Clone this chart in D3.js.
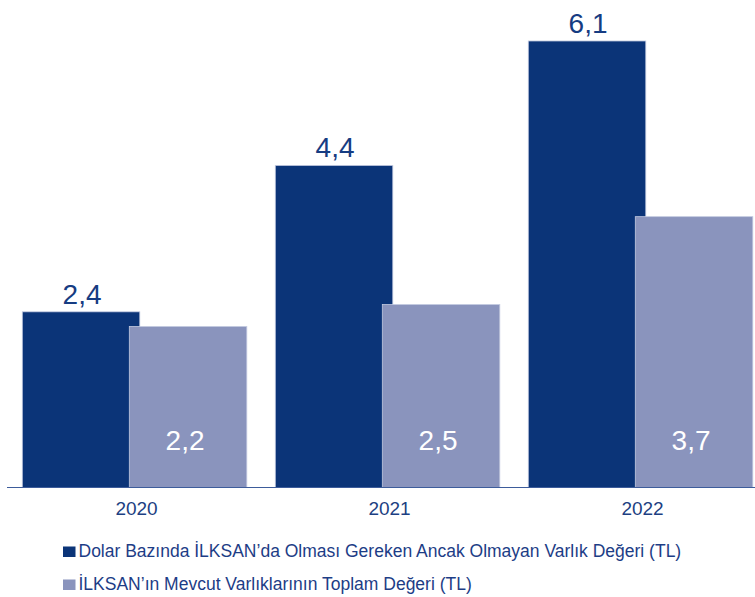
<!DOCTYPE html>
<html>
<head>
<meta charset="utf-8">
<script src="https://cdn.jsdelivr.net/npm/d3@7"></script>
<style>
  body { margin: 0; background: #fff; }
  svg { display: block; font-family: "Liberation Sans", Arial, Helvetica, sans-serif; }
</style>
</head>
<body>
<script>
// data
const years = ["2020", "2021", "2022"];
const dolarValues = [2.4, 4.4, 6.1];     // dark bars
const mevcutValues = [2.2, 2.5, 3.7];    // light bars
const seriesNames = [
    "Dolar Bazında İLKSAN’da Olması Gereken Ancak Olmayan Varlık Değeri (TL)",
    "İLKSAN’ın Mevcut Varlıklarının Toplam Değeri (TL)"
];
const seriesColors = ["#0b3478", "#8a94bd"];

const width = 755, height = 597;
const baseY = 487.5;

const svg = d3.select("body").append("svg")
    .attr("width", width)
    .attr("height", height);

const x = d3.scaleBand()
    .domain(years)
    .range([22.3, 752.8])
    .paddingInner(0.1126)
    .paddingOuter(0);

const y = d3.scaleLinear()
    .domain([0, 6.5])
    .range([baseY, baseY - 6.5 * 73.2]);

const barW = 117.5;
const lightOffset = x.bandwidth() - barW;

let rows = years.map((yr, i) => ({ year: yr, dolar: dolarValues[i], mevcut: mevcutValues[i] }));

// dark bars
svg.append("g")
    .selectAll("rect")
    .data(rows)
    .join("rect")
    .attr("x", d => x(d.year))
    .attr("y", d => y(d.dolar))
    .attr("width", barW)
    .attr("height", d => y(0) - y(d.dolar))
    .attr("fill", seriesColors[0])
    .attr("stroke", "#c3cae0")
    .attr("stroke-width", 0.8);

// light bars (drawn on top, overlapping)
svg.append("g")
    .selectAll("rect")
    .data(rows)
    .join("rect")
    .attr("x", d => x(d.year) + lightOffset)
    .attr("y", d => y(d.mevcut))
    .attr("width", barW)
    .attr("height", d => y(0) - y(d.mevcut))
    .attr("fill", seriesColors[1])
    .attr("stroke", "#c3cae0")
    .attr("stroke-width", 0.8);

// value labels above dark bars
svg.append("g")
    .selectAll("text")
    .data(rows)
    .join("text")
    .attr("x", d => x(d.year) + barW / 2 + 1)
    .attr("y", d => y(d.dolar) - 8)
    .attr("text-anchor", "middle")
    .style("font-size", "28px")
    .style("fill", "#163c82")
    .text(d => String(d.dolar).replace(".", ","));

// value labels inside light bars
svg.append("g")
    .selectAll("text")
    .data(rows)
    .join("text")
    .attr("x", d => x(d.year) + lightOffset + barW / 2 - 3)
    .attr("y", y(0) - 38)
    .attr("text-anchor", "middle")
    .style("font-size", "28px")
    .style("fill", "#ffffff")
    .text(d => String(d.mevcut).replace(".", ","));

// baseline
svg.append("line")
    .attr("x1", 7)
    .attr("x2", width)
    .attr("y1", baseY)
    .attr("y2", baseY)
    .attr("stroke", "#3d5c9b")
    .attr("stroke-width", 1.2);

// year axis
const axis = svg.append("g")
    .attr("transform", `translate(0,${baseY})`)
    .call(d3.axisBottom(x).tickSize(0).tickPadding(14));
axis.select(".domain").remove();
axis.selectAll("text")
    .attr("dx", 2)
    .style("font-family", "\"Liberation Sans\", Arial, sans-serif")
    .style("font-size", "19px")
    .style("fill", "#1d3f82");

// legend
const legend = svg.append("g")
    .selectAll("g")
    .data(seriesNames)
    .join("g")
    .attr("transform", (d, i) => `translate(63,${546.5 + i * 33})`);

legend.append("rect")
    .attr("width", 12.5)
    .attr("height", 10.5)
    .attr("fill", (d, i) => seriesColors[i]);

legend.append("text")
    .attr("x", 15.5)
    .attr("y", 10.5)
    .style("font-size", "17.5px")
    .style("fill", "#1d3d86")
    .text(d => d);
</script>
</body>
</html>
